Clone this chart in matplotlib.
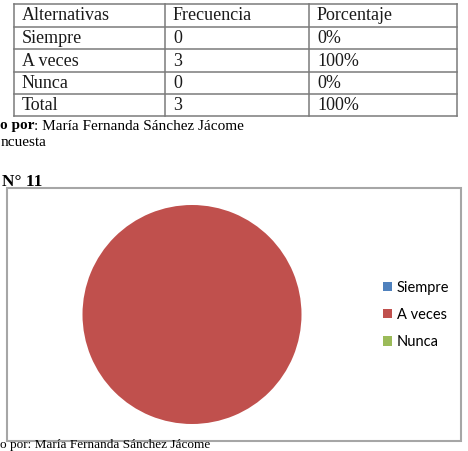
import matplotlib
matplotlib.use('Agg')
from matplotlib import pyplot as plt

# table data
headers = ['Alternativas', 'Frecuencia', 'Porcentaje']
alternativas = ['Siempre', 'A veces', 'Nunca', 'Total']
frecuencia = [0, 3, 0, 3]
porcentaje = ['0%', '100%', '0%', '100%']

# pie data (without the total row)
labels = alternativas[:3]
values = frecuencia[:3]
colors = ['#4F81BD', '#C0504D', '#9BBB59']

W, H = 468, 451
fig = plt.figure(figsize=(W / 100, H / 100), dpi=100)

# page layer in pixel coords
page = fig.add_axes([0, 0, 1, 1])
page.set_xlim(0, W)
page.set_ylim(H, 0)
page.axis('off')

serif = 'Liberation Serif'

# table
col_x = [14, 165, 309, 457]
row_y = [4, 27, 49, 72, 94, 116]
line_c = '#7a7a7a'
for x in col_x:
    page.plot([x, x], [row_y[0], row_y[-1]], color=line_c, lw=1.1)
for y in row_y:
    page.plot([col_x[0], col_x[-1]], [y, y], color=line_c, lw=1.1)

rows = [headers] + [[a, str(f), p] for a, f, p in zip(alternativas, frecuencia, porcentaje)]
for i, row in enumerate(rows):
    yc = (row_y[i] + row_y[i + 1]) / 2 + 0.5
    for j, cell in enumerate(row):
        page.text(col_x[j] + 8, yc, cell, fontsize=13, family=serif,
                  va='center', ha='left', color='#1a1a1a')

# notes under the table (page is cut on the left)
t1 = page.text(0, 126, 'o por', fontsize=11, family=serif, weight='bold',
               ha='left', va='center')
page.annotate(': María Fernanda Sánchez Jácome', xy=(1, 0), xycoords=t1,
              fontsize=11, family=serif, ha='left', va='bottom')
page.text(1, 142, 'ncuesta', fontsize=11, family=serif, ha='left', va='center')

page.text(2, 182, 'N° 11', fontsize=12.5, family=serif, weight='bold',
          ha='left', va='center')

# chart border
page.add_patch(plt.Rectangle((7, 188), 454, 253, fill=False,
                             edgecolor='#a6a6a6', lw=1.5))

# bottom note
page.text(0, 451, 'o por: María Fernanda Sánchez Jácome', fontsize=9.5,
          family=serif, ha='left', va='bottom')

# pie
cx, cy, r = 192, 314.5, 109.5
pax = fig.add_axes([(cx - r) / W, (H - cy - r) / H, 2 * r / W, 2 * r / H])
wedges, _ = pax.pie(values, colors=colors, startangle=90, counterclock=False,
                    radius=1, wedgeprops=dict(linewidth=0))
pax.set_xlim(-1, 1)
pax.set_ylim(-1, 1)

fig.legend(wedges, labels, loc='center left',
           bbox_to_anchor=(383 / W, 1 - 315 / H), frameon=False,
           prop={'family': 'Lato', 'size': 10.5},
           handlelength=0.6, handleheight=0.6, handletextpad=0.35,
           labelspacing=0.9, borderpad=0, borderaxespad=0)

fig.savefig('out.png', dpi=100)
